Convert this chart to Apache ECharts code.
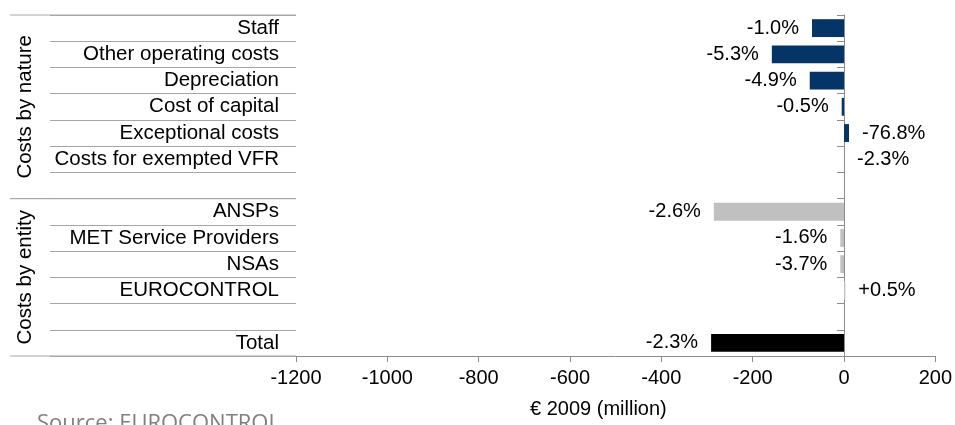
<!DOCTYPE html>
<html>
<head>
<meta charset="utf-8">
<style>
  html, body { margin: 0; padding: 0; background: #fff; }
  #chart { width: 955px; height: 425px; }
</style>
<script src="https://cdn.jsdelivr.net/npm/echarts@6/dist/echarts.min.js"></script>
</head>
<body>
<div id="chart"></div>
<script>
// Change in costs, € 2009 (million), by nature and by entity
const categories = [
  'Staff', 'Other operating costs', 'Depreciation', 'Cost of capital',
  'Exceptional costs', 'Costs for exempted VFR', ' ',
  'ANSPs', 'MET Service Providers', 'NSAs', 'EUROCONTROL', '  ', 'Total'
];
const values = [-70, -158, -75, -5, 11, 0, null, -285, -8, -8, 3, null, -291];
const pctLabels = [
  '-1.0%', '-5.3%', '-4.9%', '-0.5%', '-76.8%', '-2.3%', '',
  '-2.6%', '-1.6%', '-3.7%', '+0.5%', '', '-2.3%'
];
// Row ranges (first..last, inclusive) of the two category groups
const groupNames = ['Costs by nature', 'Costs by entity'];
const groupFirst = [0, 7];
const groupLast = [6, 12];
const xTicks = { min: -1200, max: 200, step: 200 };

const FONT = 'Arial, "Liberation Sans", sans-serif';
const LINE = '#a6a6a6';
const AXIS = '#8c8c8c';
const colours = { 'Costs by nature': '#053466', 'Costs by entity': '#c0c0c0', 'Total': '#000000' };

function colourOf(i) {
  if (categories[i] === 'Total') return colours.Total;
  for (let g = 0; g < groupNames.length; g++) {
    if (i >= groupFirst[g] && i <= groupLast[g]) return colours[groupNames[g]];
  }
  return '#000';
}

const barData = values.map((v, i) => ({
  value: v,
  itemStyle: { color: colourOf(i) },
  label: { position: v !== null && v < 0 ? 'left' : 'right' }
}));

// helper axis that only supplies a scale, nothing drawn
function hiddenValueAxis(gridIndex, extra) {
  return Object.assign({
    gridIndex: gridIndex, type: 'value', show: false,
    axisLine: { show: false }, axisTick: { show: false },
    axisLabel: { show: false }, splitLine: { show: false }, splitArea: { show: false }
  }, extra);
}

const gridTop = 15, gridBottom = 69;

const chart = echarts.init(document.getElementById('chart'), null, { renderer: 'canvas' });
chart.setOption({
  animation: false,
  backgroundColor: '#ffffff',
  grid: [
    { left: 296, right: 19.5, top: gridTop, bottom: gridBottom, show: false },
    { left: 50, width: 246, top: gridTop, bottom: gridBottom, show: false },
    { left: 10, width: 286, top: gridTop, bottom: gridBottom, show: false }
  ],
  xAxis: [
    {
      gridIndex: 0, type: 'value',
      min: xTicks.min, max: xTicks.max, interval: xTicks.step,
      axisLine: { show: true, onZero: false, lineStyle: { color: AXIS, width: 1 } },
      axisTick: { show: true, length: 6, lineStyle: { color: AXIS } },
      axisLabel: { color: '#000', fontSize: 20, fontFamily: FONT, margin: 12,
                   formatter: v => String(v) },
      splitLine: { show: false }
    },
    hiddenValueAxis(1, { min: 0, max: 1 }),
    hiddenValueAxis(2, { min: 0, max: 1 })
  ],
  yAxis: [
    {
      gridIndex: 0, type: 'category', data: categories, inverse: true,
      axisLine: { show: true, onZero: true, lineStyle: { color: AXIS, width: 1 } },
      axisTick: { show: true, length: 7, inside: false, interval: 0, lineStyle: { color: AXIS } },
      axisLabel: { show: false, interval: 0 },
      splitLine: { show: false }
    },
    {
      gridIndex: 1, type: 'category', data: categories, inverse: true,
      position: 'right',
      axisLine: { show: false },
      axisTick: { show: false, interval: 0 },
      axisLabel: { inside: true, interval: 0, hideOverlap: false, margin: 17,
                   color: '#000', fontSize: 20.5, fontFamily: FONT },
      splitLine: { show: true, interval: 0, lineStyle: { color: LINE, width: 1 } }
    },
    hiddenValueAxis(2, { inverse: true, min: 0, max: categories.length })
  ],
  series: [
    {
      type: 'bar',
      xAxisIndex: 0, yAxisIndex: 0,
      barWidth: '68%',
      data: barData,
      label: {
        show: true,
        distance: 13,
        color: '#000',
        fontSize: 20,
        fontFamily: FONT,
        formatter: p => pctLabels[p.dataIndex]
      }
    },
    {
      // group brackets: full-width rules at group edges and rotated group titles
      type: 'custom',
      xAxisIndex: 2, yAxisIndex: 2,
      clip: false,
      data: groupNames.map((n, g) => [groupFirst[g], groupLast[g] + 1]),
      renderItem: function (params, api) {
        const g = params.dataIndex;
        const start = api.value(0), end = api.value(1);
        const a0 = api.coord([0, start]), a1 = api.coord([1, start]);
        const b0 = api.coord([0, end]), b1 = api.coord([1, end]);
        const mid = api.coord([0, (start + end) / 2]);
        return {
          type: 'group',
          children: [
            { type: 'line', shape: { x1: a0[0], y1: a0[1], x2: a1[0], y2: a1[1] },
              style: { stroke: LINE, lineWidth: 1 } },
            { type: 'line', shape: { x1: b0[0], y1: b0[1], x2: b1[0], y2: b1[1] },
              style: { stroke: LINE, lineWidth: 1 } },
            { type: 'text', x: mid[0] + 15, y: mid[1], rotation: Math.PI / 2,
              style: { text: groupNames[g], fill: '#000', fontSize: 20.5, fontFamily: FONT,
                       align: 'center', verticalAlign: 'middle' } }
          ]
        };
      }
    }
  ],
  graphic: [
    { type: 'text', left: 530, top: 399,
      style: { text: '€ 2009 (million)', fill: '#000', fontSize: 20, fontFamily: FONT } },
    { type: 'text', left: 37, top: 413,
      style: { text: 'Source: EUROCONTROL', fill: '#808080', fontSize: 22, fontFamily: '"Open Sans", sans-serif' } }
  ]
});
</script>
</body>
</html>
